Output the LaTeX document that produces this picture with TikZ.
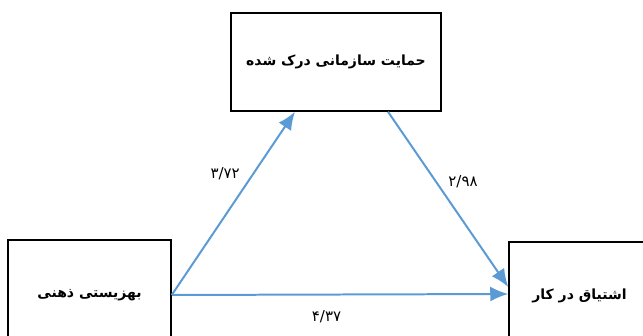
\documentclass[tikz,border=0pt]{standalone}
\usepackage{fontspec}
\usetikzlibrary{arrows.meta,positioning}
\newfontfamily\arabicfont[Script=Arabic]{DejaVu Sans}
\TeXXeTstate=1
\definecolor{arrowblue}{RGB}{91,155,213}

\begin{document}
\begin{tikzpicture}[x=1pt,y=-1pt]
                \tikzstyle{box} = [shape=rectangle, draw=black, line width=1.5pt, inner sep=0pt, font=\arabicfont\bfseries\fontsize{14}{16}\selectfont];
                \tikzstyle{weight} = [font=\arabicfont\fontsize{15}{17}\selectfont, text=black];

                \useasboundingbox (0,0) rectangle (643,335);
                \clip (0,0) rectangle (643,335);

                \node[box, minimum width=210pt, minimum height=98pt](S) at (336,62) {\beginR حمایت سازمانی درک شده\endR};
                \node[box, minimum width=163pt, minimum height=110pt](W) at (89.5,295) {\beginR بهزیستی ذهنی\endR};
                \node[box, minimum width=141pt, minimum height=108pt](E) at (579.5,296) {\beginR اشتیاق در کار\endR};

                \path[-{Latex[length=18pt,width=15pt]}, line width=0.7mm, color=arrowblue]
                    (W.east) edge node[weight, pos=0.66, left=9pt]{۳/۷۲} ([xshift=-41pt]S.south)
                    ([xshift=52pt]S.south) edge node[weight, pos=0.4, right=8pt]{۲/۹۸} ([yshift=9pt]E.west)

                    (W.east) edge node[weight, pos=0.46, below=12pt]{۴/۳۷} ([yshift=2pt]E.west)
                ;
            \end{tikzpicture}
\end{document}
